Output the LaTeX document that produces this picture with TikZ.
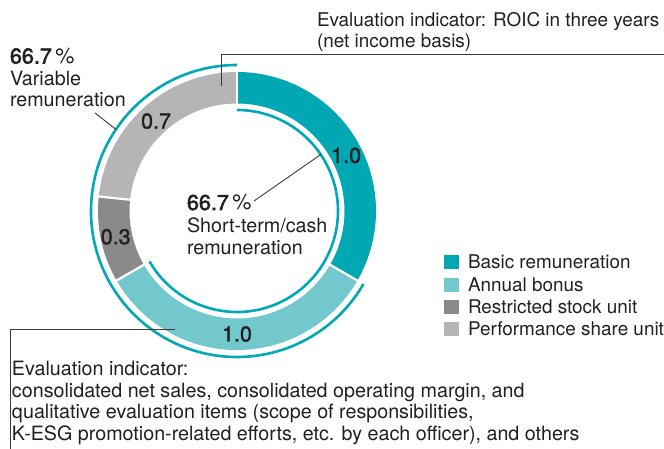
\documentclass[tikz,border=0pt]{standalone}
\usepackage{fontspec}
\setmainfont{TeX Gyre Heros}
\newfontfamily\medfont{TeX Gyre Heros}[FakeBold=2.5]
\newfontfamily\numfont{TeX Gyre Heros}[FakeBold=1.5]
\definecolor{basicc}{HTML}{00A8B3}
\definecolor{bonusc}{HTML}{72C8CD}
\definecolor{rsuc}{HTML}{8A8A8A}
\definecolor{psuc}{HTML}{B5B5B5}
\definecolor{arcc}{HTML}{00A9B5}
\definecolor{txtc}{HTML}{231F20}
\definecolor{linec}{HTML}{3A3A3A}
\begin{document}
\begin{tikzpicture}[x=1pt,y=1pt,
  txt/.style={inner sep=0pt, outer sep=0pt, anchor=base west, align=left,
    font=\fontsize{19.7}{21.7}\selectfont, text=txtc},
  toptxt/.style={txt, font=\fontsize{18.9}{21.5}\selectfont},
  legtxt/.style={inner sep=0pt, outer sep=0pt, anchor=west,
    font=\fontsize{18.9}{21.5}\selectfont, text=txtc},
  pct/.style={inner sep=0pt, outer sep=0pt, anchor=base west,
    font=\fontsize{21.5}{21.5}\selectfont, text=txtc},
  num/.style={inner sep=0pt, outer sep=0pt, font=\fontsize{21.5}{21.5}\selectfont\numfont, text=txtc},
  lead/.style={draw=linec, line width=0.9pt},
  ringarc/.style={draw=arcc, line width=2.6pt},
  sep/.style={draw=white, line width=2.2pt},
  legbox/.style={inner sep=0pt, minimum size=14.5pt}
]
\useasboundingbox (0,0) rectangle (664,-449);
% ring
\begin{scope}[shift={(237,-211)}]
  \fill[basicc] (90:139) arc[start angle=90, end angle=-30, radius=139] -- (-30:107.5) arc[start angle=-30, end angle=90, radius=107.5] -- cycle;
  \fill[bonusc] (-30:139) arc[start angle=-30, end angle=-150, radius=139] -- (-150:107.5) arc[start angle=-150, end angle=-30, radius=107.5] -- cycle;
  \fill[rsuc] (-150:139) arc[start angle=-150, end angle=-186, radius=139] -- (-186:107.5) arc[start angle=-186, end angle=-150, radius=107.5] -- cycle;
  \fill[psuc] (-186:139) arc[start angle=-186, end angle=-270, radius=139] -- (-270:107.5) arc[start angle=-270, end angle=-186, radius=107.5] -- cycle;
  \foreach \a in {90,-30,-150,-186} \draw[sep] (\a:105) -- (\a:141);
  \draw[ringarc] (90:146) arc[start angle=90, end angle=330, radius=146];
  \draw[ringarc] (-150:101) arc[start angle=-150, end angle=90, radius=101];
  \node[num] (nbasic) at (27:122.5) {1.0};
  \node[num] (nbonus) at (-90:123) {1.0};
  \node[num] (nrsu) at (192:124) {0.3};
  \node[num] (npsu) at (132:121) {0.7};
  \coordinate (varend) at (146:146);
  \coordinate (stend) at (34:101);
  \coordinate (roicstart) at (-16,125);
  \coordinate (kpistart) at (-62,-118);
\end{scope}
% labels (anchor = baseline of last line)
\node[toptxt] (roic) at (317,-48) {Evaluation indicator: ROIC in three years\\(net income basis)};
\node[pct] (varpct) at (10,-63.5) {{\medfont 66.7}\,\%};
\node[txt] (vartxt) at (10,-107) {Variable\\remuneration};
\node[pct] (stpct) at (187,-210) {{\medfont 66.7}\,\%};
\node[txt] (sttxt) at (187,-254.5) {Short-term/cash\\remuneration};
\node[txt] (kpi) at (12,-440.6) {Evaluation indicator:\\consolidated net sales, consolidated operating margin, and\\qualitative evaluation items (scope of responsibilities,\\K-ESG promotion-related efforts, etc. by each officer), and others};
% leaders
\coordinate (varstart) at (95,-113);
\coordinate (ststart) at (254,-201);
\coordinate (roicturn) at (221,-54);
\coordinate (roicend) at (664,-54);
\coordinate (kpiturn) at (10,-329);
\coordinate (kpiend) at (10,-449);
\draw[lead] (varstart) -- (varend);
\draw[lead] (ststart) -- (stend);
\draw[lead] (roicstart) -- (roicturn) -- (roicend);
\draw[lead] (kpistart) -- (kpiturn) -- (kpiend);
% legend
\node[legbox, fill=basicc] (lg1) at (451.5,-262) {};
\node[legbox, fill=bonusc] (lg2) at (451.5,-285) {};
\node[legbox, fill=rsuc] (lg3) at (451.5,-307) {};
\node[legbox, fill=psuc] (lg4) at (451.5,-329) {};
\node[legtxt] (lt1) at (468,-262) {Basic remuneration};
\node[legtxt] (lt2) at (468,-285) {Annual bonus};
\node[legtxt] (lt3) at (468,-307) {Restricted stock unit};
\node[legtxt] (lt4) at (468,-329) {Performance share unit};
\end{tikzpicture}
\end{document}
